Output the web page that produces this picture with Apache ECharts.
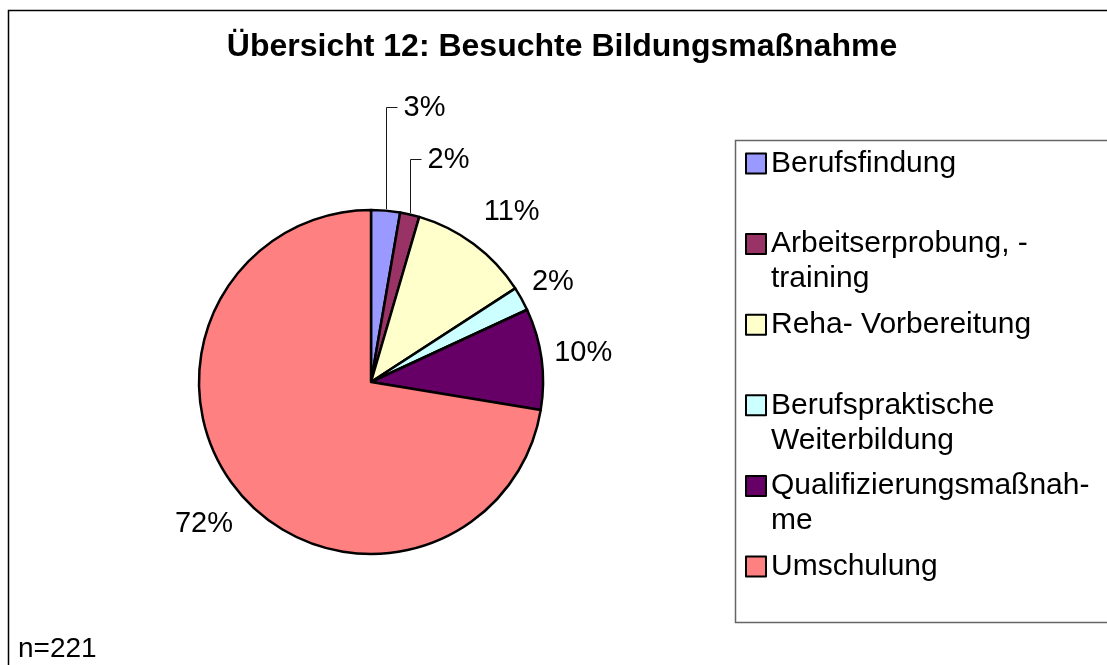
<!DOCTYPE html>
<html>
<head>
<meta charset="utf-8">
<script src="https://cdn.jsdelivr.net/npm/echarts@6/dist/echarts.min.js"></script>
<style>
html,body{margin:0;padding:0;background:#fff;}
#chart{width:1107px;height:665px;}
</style>
</head>
<body>
<div id="chart"></div>
<script>
// ---- data ----
const titleText = 'Übersicht 12: Besuchte Bildungsmaßnahme';
const sampleLabel = 'n=221';
const categories = [
  'Berufsfindung',
  'Arbeitserprobung, -\ntraining',
  'Reha- Vorbereitung',
  'Berufspraktische\nWeiterbildung',
  'Qualifizierungsmaßnah-\nme',
  'Umschulung'
];
const counts = [6, 4, 25, 5, 21, 160];
const sliceColors = ['#9999FF', '#993366', '#FFFFCC', '#CCFFFF', '#660066', '#FF8080'];

// ---- layout ----
const FONT = "'Liberation Sans', Arial, sans-serif";
const CX = 371, CY = 382, R = 172, R_OUT = 173.5;
const LABEL_GAPS = [0, 0, 18, 9, 10, 14];
const ANGLE_NUDGE = [0, 0, 3, 0, 0, 0];
const LIFT = [101.5, 49.5];

const total = counts.reduce((a, b) => a + b, 0);

const chart = echarts.init(document.getElementById('chart'), null, {renderer: 'canvas'});

const data = categories.map((name, i) => ({
  name: name,
  value: counts[i],
  itemStyle: {color: sliceColors[i]},
  labelLine: i < 2 ? {show: true, lineStyle: {color: '#1a1a1a', width: 1}} : {show: false}
}));

chart.setOption({
  animation: false,
  backgroundColor: '#fff',
  title: [
    {
      text: titleText,
      left: 562,
      top: 31,
      padding: 0,
      textAlign: 'center',
      textStyle: {fontFamily: FONT, fontSize: 32, fontWeight: 'bold', color: '#000'}
    },
    {
      text: sampleLabel,
      left: 18,
      top: 635,
      padding: 0,
      textStyle: {fontFamily: FONT, fontSize: 28, fontWeight: 'normal', color: '#000'}
    }
  ],
  graphic: [
    {
      type: 'rect', silent: true, z: -10,
      shape: {x: 8.5, y: 10.5, width: 1200, height: 800},
      style: {fill: 'none', stroke: '#000', lineWidth: 1.5}
    },
    {
      type: 'rect', silent: true, z: -5,
      shape: {x: 735.5, y: 140.5, width: 500, height: 482},
      style: {fill: '#fff', stroke: '#666', lineWidth: 1.5}
    }
  ],
  legend: {
    orient: 'vertical',
    left: 745,
    top: 111,
    padding: 0,
    itemGap: 80.6 - 105,
    itemWidth: 20,
    itemHeight: 20,
    icon: 'rect',
    selectedMode: false,
    itemStyle: {borderColor: '#000', borderWidth: 2},
    textStyle: {fontFamily: FONT, fontSize: 30, lineHeight: 35, color: '#000'},
    formatter: function (name) {
      const lines = name.split('\n');
      if (lines.length === 1) lines.push('');
      return ['\u00a0'].concat(lines.map(l => l || '\u00a0')).join('\n');
    },
    data: categories
  },
  series: [{
    type: 'pie',
    center: [CX, CY],
    radius: R,
    startAngle: 90,
    clockwise: true,
    avoidLabelOverlap: false,
    emphasis: {disabled: true},
    itemStyle: {borderColor: '#000', borderWidth: 2.5},
    label: {
      show: true,
      position: 'outside',
      fontFamily: FONT,
      fontSize: 29,
      color: '#000',
      formatter: function (p) { return Math.round(p.percent) + '%'; }
    },
    labelLine: {show: false},
    labelLayout: function (p) {
      const i = p.dataIndex;
      let cum = 0;
      for (let k = 0; k < i; k++) cum += counts[k];
      const mid = (cum + counts[i] / 2) / total * 2 * Math.PI;
      if (i < 2) {
        const px = Math.round(CX + R_OUT * Math.sin(mid)) + 0.5;
        const py = CY - R_OUT * Math.cos(mid);
        const ly = Math.round(CY - R_OUT - LIFT[i]) + 0.5;
        return {
          x: px + 17, y: ly, align: 'left', verticalAlign: 'middle',
          labelLinePoints: [[px, py], [px, ly], [px + 11, ly]]
        };
      }
      const a = mid + ANGLE_NUDGE[i] * Math.PI / 180;
      const ux = Math.sin(a), uy = -Math.cos(a);
      const w = p.labelRect.width, h = p.labelRect.height;
      const d = R_OUT + LABEL_GAPS[i] + w / 2 * Math.abs(ux) + h / 2 * Math.abs(uy);
      return {x: CX + d * ux, y: CY + d * uy, align: 'center', verticalAlign: 'middle'};
    },
    data: data
  }]
});
</script>
</body>
</html>
